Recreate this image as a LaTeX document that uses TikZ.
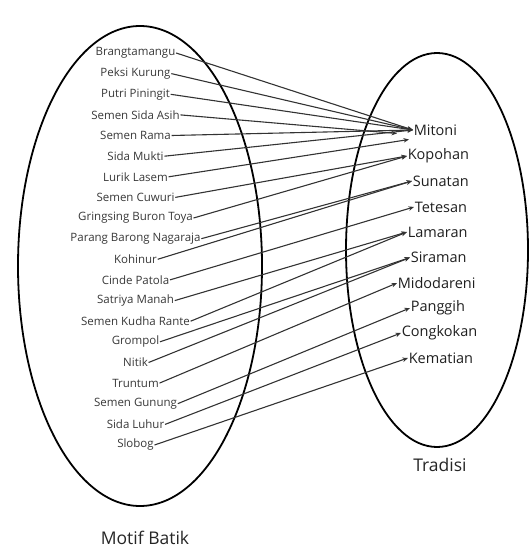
\documentclass[tikz,border=0pt]{standalone}
\usepackage{fontspec}
\setmainfont{Open Sans}
\usetikzlibrary{arrows.meta}
\begin{document}
\begin{tikzpicture}[x=1pt,y=-1pt,
  src/.style={font=\fontsize{11.5}{12}\selectfont, text=black!78, inner sep=0.6pt, anchor=center},
  dst/.style={font=\fontsize{14.5}{15}\selectfont, text=black!88, inner sep=0.6pt, anchor=west},
  ttl/.style={font=\fontsize{17.5}{18}\selectfont, text=black!85, inner sep=0pt},
  conn/.style={draw=black!80, line width=1.1pt, -{Stealth[length=5.5pt,width=4.5pt]}},
  ring/.style={draw=black, line width=1.8pt}]
\useasboundingbox (0,0) rectangle (531,548);
% sets
\draw[ring] (140,266) ellipse [x radius=122, y radius=240];
\draw[ring] (437,250) ellipse [x radius=91, y radius=197];
% titles
\node[ttl] (tradisi) at (440,465) {Tradisi};
\node[ttl] (motif) at (145,538) {Motif Batik};
% motif labels
\node[src] (s1)  at (135.5,53)  {Brangtamangu};
\node[src] (s2)  at (135.5,73.6) {Peksi Kurung};
\node[src] (s3)  at (135.5,94.3) {Putri Piningit};
\node[src] (s4)  at (135.5,114.9) {Semen Sida Asih};
\node[src] (s5)  at (135.5,135.5) {Semen Rama};
\node[src] (s6)  at (135.5,156.2) {Sida Mukti};
\node[src] (s7)  at (135.5,176.8) {Lurik Lasem};
\node[src] (s8)  at (135.5,197.4) {Semen Cuwuri};
\node[src] (s9)  at (135.5,218.0) {Gringsing Buron Toya};
\node[src] (s10) at (135.5,238.7) {Parang Barong Nagaraja};
\node[src] (s11) at (135.5,259.3) {Kohinur};
\node[src] (s12) at (135.5,279.9) {Cinde Patola};
\node[src] (s13) at (135.5,300.6) {Satriya Manah};
\node[src] (s14) at (135.5,321.2) {Semen Kudha Rante};
\node[src] (s15) at (135.5,341.8) {Grompol};
\node[src] (s16) at (135.5,362.5) {Nitik};
\node[src] (s17) at (135.5,383.1) {Truntum};
\node[src] (s18) at (135.5,403.7) {Semen Gunung};
\node[src] (s19) at (135.5,424.4) {Sida Luhur};
\node[src] (s20) at (135.5,445)  {Slobog};
% tradisi labels
\node[dst] (t1)  at (413,130) {Mitoni};
\node[dst] (t2)  at (407,156) {Kopohan};
\node[dst] (t3)  at (412,181) {Sunatan};
\node[dst] (t4)  at (414,207) {Tetesan};
\node[dst] (t5)  at (407,232) {Lamaran};
\node[dst] (t6)  at (410,257.5) {Siraman};
\node[dst] (t7)  at (397,283) {Midodareni};
\node[dst] (t8)  at (410,308) {Panggih};
\node[dst] (t9)  at (401,333) {Congkokan};
\node[dst] (t10) at (408,358) {Kematian};
\coordinate (m2) at (397,133.5);
\coordinate (m3) at (409,139.5);
% connectors
\draw[conn] (s1.east) -- (t1.west);
\draw[conn] (s2.east) -- (t1.west);
\draw[conn] (s3.east) -- (t1.west);
\draw[conn] (s4.east) -- (m2);
\draw[conn] (s5.east) -- (t1.west);
\draw[conn] (s6.east) -- (t1.west);
\draw[conn] (s7.east) -- (m3);
\draw[conn] (s8.east) -- (t2.west);
\draw[conn] (s9.east) -- (t2.west);
\draw[conn] (s10.east) -- (t3.west);
\draw[conn] (s11.east) -- (t3.west);
\draw[conn] (s12.east) -- (t4.west);
\draw[conn] (s13.east) -- (t5.west);
\draw[conn] (s14.east) -- (t5.west);
\draw[conn] (s15.east) -- (t6.west);
\draw[conn] (s16.east) -- (t6.west);
\draw[conn] (s17.east) -- (t7.west);
\draw[conn] (s18.east) -- (t8.west);
\draw[conn] (s19.east) -- (t9.west);
\draw[conn] (s20.east) -- (t10.west);
\end{tikzpicture}
\end{document}
